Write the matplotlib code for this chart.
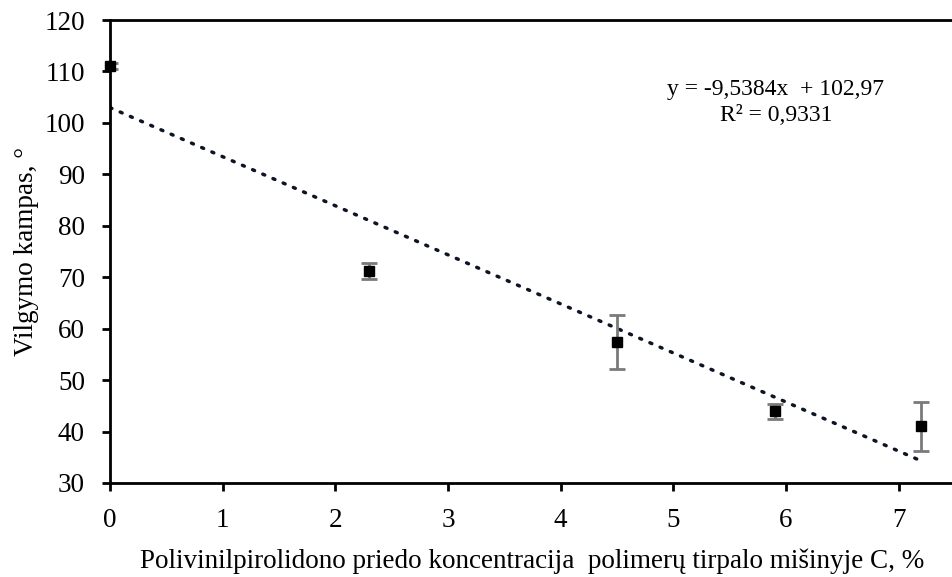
import numpy as np
import matplotlib.pyplot as plt

plt.rcParams['font.family'] = ['Liberation Serif', 'DejaVu Serif']

# duomenys
koncentracija = [0, 2.3, 4.5, 5.9, 7.2]
kampas = [111.0, 71.2, 57.4, 43.9, 41.0]
paklaida = [0.6, 1.5, 5.3, 1.4, 4.7]
nuolydis = -9.5384
laisvasis = 102.97
r2 = 0.9331

fig = plt.figure(figsize=(9.52, 5.77), dpi=100)
ax = fig.add_axes([110 / 952, 1 - 483 / 577, 845 / 952, 463 / 577])

# tendencijos linija
xt = np.array([koncentracija[0], koncentracija[-1]])
ax.plot(xt, nuolydis * xt + laisvasis, linestyle=(0, (0.6, 2.6)), color='#0d1424',
        linewidth=2.5, dash_capstyle='round', zorder=2)

ax.errorbar(koncentracija, kampas, yerr=paklaida, fmt='none', ecolor='#7a7a7a',
            elinewidth=2, capsize=6, capthick=2, zorder=3)
ax.plot(koncentracija, kampas, 's', color='black', markersize=7.5, zorder=4, clip_on=False)

ax.text(0.788, 0.822, 'y = -9,5384x  + 102,97\nR² = 0,9331', transform=ax.transAxes,
        ha='center', va='center', fontsize=17, linespacing=1.3)

ax.set_xlim(0, 7.5)
ax.set_ylim(30, 120)
ax.set_xticks(range(0, 8))
ax.set_yticks(range(30, 121, 10))
ax.tick_params(direction='out', length=6, width=2, labelsize=19.5)
ax.tick_params(axis='x', pad=12)
ax.tick_params(axis='y', pad=12)
for s in ['left', 'bottom', 'top']:
    ax.spines[s].set_linewidth(2)
ax.spines['right'].set_visible(False)

ax.set_xlabel('Polivinilpirolidono priedo koncentracija  polimerų tirpalo mišinyje C, %',
              fontsize=19.5, labelpad=11)
ax.set_ylabel('Vilgymo kampas, °', fontsize=19.5, labelpad=4)

fig.savefig('out.png', dpi=100)
